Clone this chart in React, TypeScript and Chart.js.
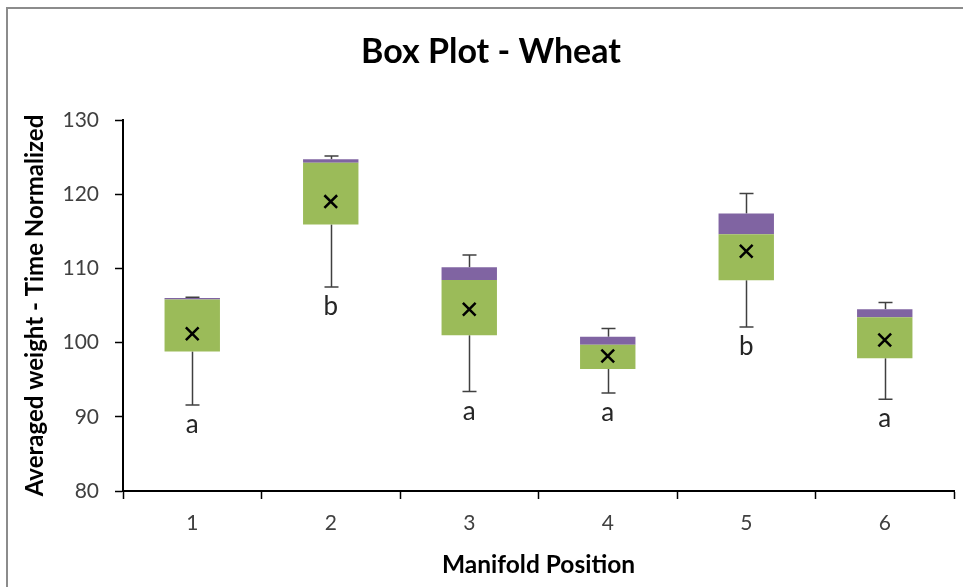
import React, { useEffect, useRef } from "react";
import { Chart, registerables } from "chart.js";

Chart.register(...registerables);

const categories = ["1", "2", "3", "4", "5", "6"];
const q1Values = [98.8, 115.9, 101.0, 96.45, 108.4, 97.9];
const medianValues = [105.8, 124.25, 108.45, 99.7, 114.6, 103.4];
const q3Values = [106.0, 124.7, 110.15, 100.8, 117.4, 104.5];
const minValues = [91.6, 107.5, 93.4, 93.2, 102.1, 92.35];
const maxValues = [106.1, 125.15, 111.8, 101.9, 120.1, 105.4];
const meanValues = [101.2, 119.0, 104.5, 98.2, 112.3, 100.35];
const groupLetters = ["a", "b", "a", "a", "b", "a"];
const yTicks = [80, 90, 100, 110, 120, 130];

const FONT = "Lato, 'Open Sans', sans-serif";

const whiskerPlugin = {
  id: "whiskers",
  beforeDatasetsDraw(chart: any) {
    const { ctx, scales } = chart;
    const x = scales.x;
    const y = scales.y;
    ctx.save();
    ctx.strokeStyle = "#404040";
    ctx.lineWidth = 1.5;
    const cap = 7;
    categories.forEach((_, i) => {
      const px = Math.round(x.getPixelForValue(i)) + 0.5;
      const yMin = y.getPixelForValue(minValues[i]);
      const yMax = y.getPixelForValue(maxValues[i]);
      const yQ1 = y.getPixelForValue(q1Values[i]);
      const yQ3 = y.getPixelForValue(q3Values[i]);
      ctx.beginPath();
      ctx.moveTo(px, yQ3);
      ctx.lineTo(px, yMax);
      ctx.moveTo(px - cap, yMax);
      ctx.lineTo(px + cap, yMax);
      ctx.moveTo(px, yQ1);
      ctx.lineTo(px, yMin);
      ctx.moveTo(px - cap, yMin);
      ctx.lineTo(px + cap, yMin);
      ctx.stroke();
    });
    ctx.restore();
  },
  afterDatasetsDraw(chart: any) {
    const { ctx, scales } = chart;
    const x = scales.x;
    const y = scales.y;
    ctx.save();
    ctx.fillStyle = "#262626";
    ctx.font = `26px ${FONT}`;
    ctx.textAlign = "center";
    ctx.textBaseline = "alphabetic";
    categories.forEach((_, i) => {
      const px = x.getPixelForValue(i);
      const py = y.getPixelForValue(minValues[i]) + 28;
      ctx.fillText(groupLetters[i], px, py);
    });
    ctx.restore();
  },
};

export default function App() {
  const canvasRef = useRef<HTMLCanvasElement | null>(null);

  useEffect(() => {
    if (!canvasRef.current) return;
    const chart = new Chart(canvasRef.current, {
      type: "bar",
      data: {
        labels: categories,
        datasets: [
          {
            type: "bar",
            label: "Q1-Median",
            data: q1Values.map((v, i) => [v, medianValues[i]]) as any,
            backgroundColor: "#9bbb59",
            borderWidth: 0,
            grouped: false,
            barPercentage: 0.4,
            categoryPercentage: 1,
            order: 2,
          } as any,
          {
            type: "bar",
            label: "Median-Q3",
            data: medianValues.map((v, i) => [v, q3Values[i]]) as any,
            backgroundColor: "#8064a2",
            borderWidth: 0,
            grouped: false,
            barPercentage: 0.4,
            categoryPercentage: 1,
            order: 2,
          } as any,
          {
            type: "line",
            label: "Mean",
            data: meanValues,
            showLine: false,
            pointStyle: "crossRot",
            pointRadius: 9,
            pointBorderWidth: 2.5,
            borderColor: "#000000",
            backgroundColor: "#000000",
            order: 0,
          } as any,
        ],
      },
      options: {
        responsive: false,
        animation: false,
        devicePixelRatio: 1,
        layout: { padding: { left: 0, right: 0, top: 0, bottom: 0 } },
        plugins: {
          legend: { display: false },
          tooltip: { enabled: false },
          title: {
            display: true,
            text: "Box Plot - Wheat",
            color: "#000000",
            font: { family: FONT, size: 34, weight: "bold" },
            padding: { top: 31.6, bottom: 47.6 },
          },
        },
        scales: {
          x: {
            type: "category",
            offset: true,
            grid: {
              display: true,
              offset: true,
              drawOnChartArea: false,
              drawTicks: true,
              tickLength: 8,
              tickWidth: 1.5,
              tickColor: "#000000",
            },
            border: { display: true, color: "#000000", width: 2 },
            ticks: {
              color: "#404040",
              font: { family: FONT, size: 21 },
              padding: 12,
            },
            title: {
              display: true,
              text: "Manifold Position",
              color: "#000000",
              font: { family: FONT, size: 24.5, weight: "bold" },
              padding: { top: 0, bottom: 7 },
            },
            afterFit(scale: any) {
              scale.height = 96;
            },
          },
          y: {
            min: 80,
            max: 130,
            afterBuildTicks(scale: any) {
              scale.ticks = yTicks.map((v) => ({ value: v }));
            },
            grid: {
              display: true,
              drawOnChartArea: false,
              drawTicks: true,
              tickLength: 8,
              tickWidth: 1.5,
              tickColor: "#000000",
            },
            border: { display: true, color: "#000000", width: 2 },
            ticks: {
              color: "#404040",
              font: { family: FONT, size: 21 },
              padding: 16,
            },
            title: {
              display: true,
              text: "Averaged weight - Time Normalized",
              color: "#000000",
              font: { family: FONT, size: 24, weight: "bold" },
              padding: { top: 21, bottom: 0 },
            },
            afterFit(scale: any) {
              scale.width = 123;
            },
          },
          yRightSpacer: {
            type: "linear",
            position: "right",
            min: 80,
            max: 130,
            grid: { display: false, drawOnChartArea: false },
            border: { display: false },
            ticks: { display: false },
            afterFit(scale: any) {
              scale.width = 28;
            },
          } as any,
        },
      },
      plugins: [whiskerPlugin],
    });
    return () => chart.destroy();
  }, []);

  return (
    <div
      style={{
        position: "absolute",
        left: 0,
        top: 0,
        width: 963,
        height: 587,
        background: "#ffffff",
        overflow: "hidden",
      }}
    >
      <div
        style={{
          position: "absolute",
          left: 6,
          top: 7,
          width: 1000,
          height: 640,
          border: "2px solid #8c8c8c",
          boxSizing: "border-box",
        }}
      />
      <canvas
        ref={canvasRef}
        width={982}
        height={587}
        style={{ position: "absolute", left: 0, top: 0, width: 982, height: 587 }}
      />
    </div>
  );
}
